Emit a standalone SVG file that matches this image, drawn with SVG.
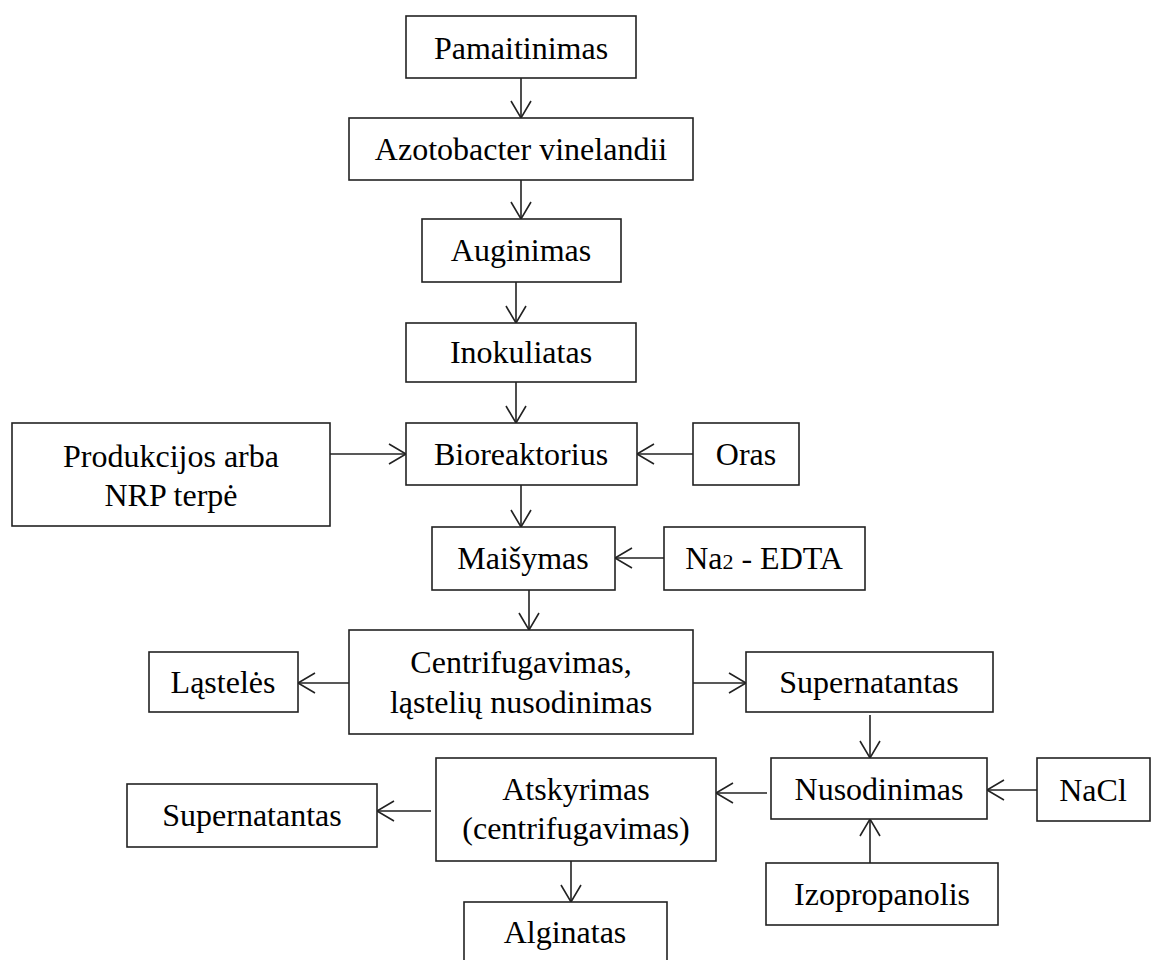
<svg xmlns="http://www.w3.org/2000/svg" width="1151" height="960" viewBox="0 0 1151 960">
<style>
.box{fill:#fff;stroke:#222;stroke-width:1.6}
.t{font-family:"Liberation Serif","Times New Roman",serif;font-size:32px;fill:#000;text-anchor:middle}
.c{fill:none;stroke:#222;stroke-width:1.6;marker-end:url(#arr)}
</style>
<defs>
<marker id="arr" markerUnits="userSpaceOnUse" markerWidth="20" markerHeight="24" viewBox="0 0 20 24" refX="18" refY="12" orient="auto">
<path d="M1,2 L18,12 L1,22" fill="none" stroke="#222" stroke-width="1.6"/>
</marker>
</defs>
<rect width="1151" height="960" fill="#fff"/>
<g id="connectors">
<line class="c" x1="521" y1="78" x2="521" y2="118"/>
<line class="c" x1="521" y1="180" x2="521" y2="219"/>
<line class="c" x1="516" y1="282" x2="516" y2="323"/>
<line class="c" x1="516" y1="382" x2="516" y2="423"/>
<line class="c" x1="330" y1="454" x2="406" y2="454"/>
<line class="c" x1="693" y1="454" x2="637" y2="454"/>
<line class="c" x1="521" y1="485" x2="521" y2="527"/>
<line class="c" x1="664" y1="558" x2="615" y2="558"/>
<line class="c" x1="529" y1="590" x2="529" y2="630"/>
<line class="c" x1="349" y1="683" x2="298" y2="683"/>
<line class="c" x1="693" y1="683" x2="746" y2="683"/>
<line class="c" x1="870" y1="715" x2="870" y2="758"/>
<line class="c" x1="1037" y1="790" x2="987" y2="790"/>
<line class="c" x1="870" y1="863" x2="870" y2="819"/>
<line class="c" x1="767" y1="793" x2="716" y2="793"/>
<line class="c" x1="431" y1="811" x2="377" y2="811"/>
<line class="c" x1="571" y1="861" x2="571" y2="902"/>
</g>
<g id="n_pamaitinimas"><rect class="box" x="406" y="16" width="230" height="62"/><text class="t" x="521" y="59">Pamaitinimas</text></g>
<g id="n_azotobacter"><rect class="box" x="349" y="118" width="344" height="62"/><text class="t" x="521" y="160">Azotobacter vinelandii</text></g>
<g id="n_auginimas"><rect class="box" x="422" y="219" width="199" height="63"/><text class="t" x="521" y="261">Auginimas</text></g>
<g id="n_inokuliatas"><rect class="box" x="406" y="323" width="230" height="59"/><text class="t" x="521" y="363">Inokuliatas</text></g>
<g id="n_bioreaktorius"><rect class="box" x="406" y="423" width="231" height="62"/><text class="t" x="521" y="465">Bioreaktorius</text></g>
<g id="n_produkcijos"><rect class="box" x="12" y="423" width="318" height="103"/><text class="t" x="171" y="467">Produkcijos arba</text><text class="t" x="171" y="506">NRP terpė</text></g>
<g id="n_oras"><rect class="box" x="693" y="423" width="106" height="62"/><text class="t" x="746" y="465">Oras</text></g>
<g id="n_maisymas"><rect class="box" x="432" y="527" width="183" height="63"/><text class="t" x="523" y="569">Maišymas</text></g>
<g id="n_na2edta"><rect class="box" x="664" y="527" width="201" height="63"/><text class="t" x="764" y="569">Na<tspan font-size="22">2</tspan> - EDTA</text></g>
<g id="n_centrifugavimas"><rect class="box" x="349" y="630" width="344" height="104"/><text class="t" x="521" y="673">Centrifugavimas,</text><text class="t" x="521" y="713">ląstelių  nusodinimas</text></g>
<g id="n_lasteles"><rect class="box" x="149" y="652" width="149" height="60"/><text class="t" x="223" y="693">Ląstelės</text></g>
<g id="n_supernatantas_r"><rect class="box" x="746" y="652" width="247" height="60"/><text class="t" x="869" y="693">Supernatantas</text></g>
<g id="n_nusodinimas"><rect class="box" x="771" y="758" width="216" height="61"/><text class="t" x="879" y="800">Nusodinimas</text></g>
<g id="n_nacl"><rect class="box" x="1037" y="758" width="113" height="63"/><text class="t" x="1093" y="801">NaCl</text></g>
<g id="n_izopropanolis"><rect class="box" x="766" y="863" width="232" height="62"/><text class="t" x="882" y="905">Izopropanolis</text></g>
<g id="n_atskyrimas"><rect class="box" x="436" y="758" width="280" height="103"/><text class="t" x="576" y="800">Atskyrimas</text><text class="t" x="576" y="839">(centrifugavimas)</text></g>
<g id="n_supernatantas_l"><rect class="box" x="127" y="784" width="250" height="63"/><text class="t" x="252" y="826">Supernatantas</text></g>
<g id="n_alginatas"><rect class="box" x="464" y="902" width="203" height="70"/><text class="t" x="565" y="943">Alginatas</text></g>
</svg>
